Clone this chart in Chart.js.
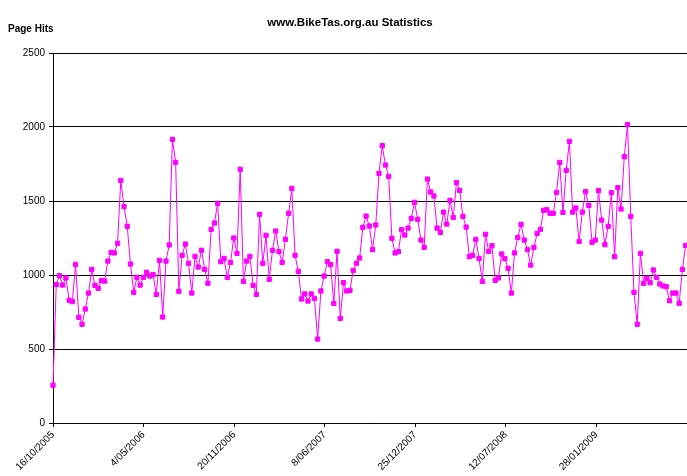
<!DOCTYPE html>
<html>
<head>
<meta charset="utf-8">
<script src="https://cdn.jsdelivr.net/npm/chart.js@4/dist/chart.umd.min.js"></script>
<style>
  html, body { margin: 0; padding: 0; background: #fff; }
  canvas { display: block; }
</style>
</head>
<body>
<canvas id="hitsChart" width="687" height="476"></canvas>
<script>
const chartTitle = 'www.BikeTas.org.au Statistics';
const axisTitle = 'Page Hits';

// x axis is days since 16/10/2005, one point per week
const tickLabels = ['16/10/2005', '4/05/2006', '20/11/2006', '8/06/2007', '25/12/2007', '12/07/2008', '28/01/2009'];
const tickStep = 200;
const lastDay = 1375;

const weeklyHits = [
    255, 935, 995, 932, 980, 829, 820, 1072, 714, 667,
    770, 878, 1038, 930, 910, 962, 959, 1094, 1153, 1149,
    1214, 1639, 1462, 1329, 1074, 883, 984, 932, 984, 1018,
    993, 1002, 869, 1099, 716, 1094, 1203, 1916, 1761, 890,
    1133, 1209, 1079, 878, 1126, 1054, 1167, 1038, 944, 1308,
    1351, 1484, 1090, 1112, 984, 1085, 1250, 1146, 1714, 957,
    1094, 1126, 930, 869, 1410, 1079, 1268, 971, 1167, 1297,
    1158, 1085, 1241, 1417, 1585, 1133, 1025, 838, 872, 824,
    872, 842, 567, 892, 993, 1090, 1070, 808, 1160, 707,
    948, 892, 896, 1031, 1079, 1115, 1322, 1398, 1331, 1171,
    1338, 1687, 1874, 1743, 1666, 1248, 1149, 1158, 1306, 1270,
    1317, 1383, 1491, 1376, 1236, 1187, 1648, 1561, 1534, 1317,
    1288, 1425, 1344, 1504, 1389, 1624, 1572, 1396, 1324, 1124,
    1133, 1241, 1112, 957, 1275, 1160, 1198, 964, 980, 1142,
    1110, 1045, 878, 1149, 1254, 1342, 1236, 1171, 1067, 1187,
    1281, 1308, 1437, 1441, 1417, 1417, 1558, 1761, 1423, 1707,
    1903, 1425, 1453, 1227, 1425, 1563, 1470, 1221, 1236, 1570,
    1371, 1205, 1329, 1556, 1124, 1590, 1446, 1799, 2016, 1396,
    883, 667, 1146, 944, 978, 948, 1034, 984, 939, 926,
    921, 826, 878, 878, 809, 1038, 1200
];

const points = weeklyHits.map((v, i) => ({ x: i * 7, y: v }));

Chart.defaults.font.family = '"Liberation Sans", Arial, sans-serif';
Chart.defaults.color = '#000';

const headings = {
    id: 'headings',
    afterDraw(chart) {
        const ctx = chart.ctx;
        ctx.save();
        ctx.fillStyle = '#000';
        ctx.textBaseline = 'alphabetic';
        ctx.font = 'bold 11.5px "Liberation Sans", Arial, sans-serif';
        ctx.textAlign = 'center';
        ctx.fillText(chartTitle, 350, 26);
        ctx.font = 'bold 10px "Liberation Sans", Arial, sans-serif';
        ctx.textAlign = 'left';
        ctx.fillText(axisTitle, 8, 32);
        ctx.restore();
    }
};

new Chart(document.getElementById('hitsChart'), {
    type: 'line',
    data: {
        datasets: [{
            data: points,
            borderColor: '#ff00ff',
            borderWidth: 1,
            backgroundColor: '#ff00ff',
            pointStyle: 'rect',
            pointRadius: 3,
            pointBorderWidth: 1,
            pointBackgroundColor: '#ff00ff',
            pointBorderColor: '#ff00ff',
            tension: 0,
            clip: false
        }]
    },
    options: {
        responsive: false,
        animation: false,
        devicePixelRatio: 1,
        layout: { autoPadding: false, padding: { top: 53, left: 0, right: 0, bottom: 0 } },
        plugins: {
            legend: { display: false },
            tooltip: { enabled: false },
            title: { display: false }
        },
        scales: {
            x: {
                type: 'linear',
                min: 0,
                max: lastDay,
                grid: { drawOnChartArea: false, drawTicks: true, tickLength: 4, color: '#000' },
                border: { color: '#000' },
                ticks: {
                    stepSize: tickStep,
                    includeBounds: false,
                    autoSkip: false,
                    minRotation: 45,
                    maxRotation: 45,
                    padding: 2,
                    font: { size: 10 },
                    callback: v => tickLabels[Math.round(v / tickStep)]
                },
                afterFit: s => { s.height = 53; s.paddingLeft = 0; s.paddingRight = 0; }
            },
            y: {
                min: 0,
                max: 2500,
                ticks: { stepSize: 500, padding: 4, font: { size: 10 }, callback: v => String(v) },
                grid: { color: '#000', tickLength: 4 },
                border: { color: '#000' },
                afterFit: s => { s.width = 53; s.paddingTop = 0; s.paddingBottom = 0; }
            }
        }
    },
    plugins: [headings]
});
</script>
</body>
</html>
